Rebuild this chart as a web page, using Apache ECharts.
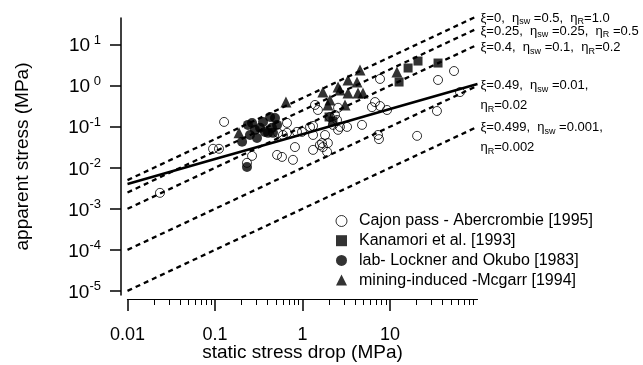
<!DOCTYPE html>
<html>
<head>
<meta charset="utf-8">
<script src="https://cdn.jsdelivr.net/npm/echarts@6/dist/echarts.min.js"></script>
<style>
html,body{margin:0;padding:0;background:#fff;}
#chart{width:643px;height:365px;}
</style>
</head>
<body>
<div id="chart"></div>
<script>
// ---- data (real values, MPa) ----
const cajonPass = [
  [0.0235, 0.00245], [0.127, 0.131], [0.095, 0.029], [0.111, 0.029], [0.232, 0.0132],
  [0.265, 0.0195], [0.665, 0.124], [0.525, 0.071], [0.665, 0.071], [0.865, 0.075],
  [0.987, 0.075], [1.32, 0.105], [0.82, 0.032], [0.512, 0.0206], [0.583, 0.0184],
  [0.778, 0.0156], [1.39, 0.34], [1.50, 0.256], [1.32, 0.0273], [1.58, 0.036],
  [1.67, 0.040], [1.71, 0.032], [1.91, 0.0244], [2.06, 0.173], [2.35, 0.194],
  [2.48, 0.146], [2.68, 0.099], [3.23, 0.099], [1.22, 0.099], [0.598, 0.063],
  [1.81, 0.063], [1.95, 0.040], [7.69, 1.46], [35.4, 1.38], [53.9, 2.28],
  [6.74, 0.40], [6.22, 0.30], [7.69, 0.32], [9.25, 0.256], [63.1, 0.70],
  [34.4, 0.242], [2.55, 0.29], [2.55, 0.084], [4.79, 0.111], [7.29, 0.063],
  [7.48, 0.050], [20.4, 0.060], [2.23, 0.111], [1.32, 0.063]
];
const kanamori = [
  [2.01, 0.173], [2.23, 0.138], [12.7, 1.23], [16.1, 2.70], [20.9, 3.99], [35.4, 3.57]
];
const lockner = [
  [0.204, 0.043], [0.238, 0.111], [0.265, 0.124], [0.354, 0.131], [0.426, 0.173],
  [0.485, 0.164], [0.251, 0.063], [0.302, 0.053], [0.372, 0.075], [0.448, 0.094],
  [0.404, 0.071], [0.46, 0.071], [0.327, 0.094], [0.232, 0.0105], [0.286, 0.084],
  [0.512, 0.111]
];
const mcgarr = [
  [0.188, 0.071], [0.647, 0.40], [1.71, 0.70], [2.06, 0.45], [1.95, 0.34],
  [2.55, 0.93], [3.06, 0.34], [3.31, 1.38], [4.20, 1.23], [4.54, 2.41],
  [3.31, 0.66], [4.31, 0.66], [4.91, 0.66], [12.0, 2.15], [2.68, 0.79]
];
const lineXi0    = [[0.01, 0.005],   [100, 50]];
const lineXi025  = [[0.01, 0.0025],  [100, 25]];
const lineXi04   = [[0.01, 0.001],   [100, 10]];
const lineXi049  = [[0.01, 0.0001],  [100, 1]];
const lineXi0499 = [[0.01, 0.00001], [100, 0.1]];
const fitCurve   = [[0.01, 0.004], [0.1, 0.0163], [1, 0.066], [10, 0.27], [100, 1.1]];

const seriesNames = ['Cajon pass - Abercrombie [1995]', 'Kanamori et al. [1993]',
  'lab- Lockner and Okubo [1983]', 'mining-induced -Mcgarr [1994]'];
const lineLabels = [
  '{t|ξ=0,  η}{u|sw}{t| =0.5,  η}{u|R}{t|=1.0}',
  '{t|ξ=0.25,  η}{u|sw}{t| =0.25,  η}{u|R}{t| =0.5}',
  '{t|ξ=0.4,  η}{u|sw}{t| =0.1,  η}{u|R}{t|=0.2}',
  '{t|ξ=0.49,  η}{u|sw}{t| =0.01,}\n{t|η}{u|R}{t|=0.02}',
  '{t|ξ=0.499,  η}{u|sw}{t| =0.001,}\n{t|η}{u|R}{t|=0.002}'
];
const xMajorTicks = [0.01, 0.1, 1, 10];
const xMinorTicks = [0.02,0.03,0.04,0.05,0.06,0.07,0.08,0.09,
  0.2,0.3,0.4,0.5,0.6,0.7,0.8,0.9, 2,3,4,5,6,7,8,9, 20,30,40,50,60,70,80,90];
const yTicks = [1e-5, 1e-4, 1e-3, 1e-2, 1e-1, 1, 10];

// ---- helpers ----
const L = v => Math.log10(v);
const toLog = arr => arr.map(p => [L(p[0]), L(p[1])]);
const FONT = "'Liberation Sans', Arial, Helvetica, sans-serif";

const richLine = {
  t: {fontSize: 13, lineHeight: 20, color: '#000', fontFamily: FONT, verticalAlign: 'middle'},
  u: {fontSize: 9, lineHeight: 20, color: '#000', fontFamily: FONT, verticalAlign: 'bottom', padding: [0, 0, 2, 0]}
};

function dashed(data, labelIdx, offY) {
  return {
    type: 'line', data: toLog(data), symbol: 'none', clip: false, silent: true,
    lineStyle: {color: '#000', width: 2.3, type: [5, 4]},
    endLabel: {show: true, formatter: () => lineLabels[labelIdx], distance: 3,
      offset: [0, offY], rich: richLine, color: '#000'}
  };
}

const chart = echarts.init(document.getElementById('chart'), null, {renderer: 'canvas'});
chart.setOption({
  animation: false,
  backgroundColor: '#fff',
  textStyle: {fontFamily: FONT},
  grid: {left: 127.5, top: 18, width: 350, height: 277, containLabel: false, outerBoundsMode: 'none'},
  legend: {
    orient: 'vertical', left: 330.5, top: 208, itemWidth: 11, itemHeight: 11, itemGap: 3.7,
    textStyle: {fontSize: 16, lineHeight: 16, color: '#000', fontFamily: FONT, padding: [0, 0, 0, 7]},
    selectedMode: false,
    data: [
      {name: seriesNames[0], icon: 'circle', itemStyle: {color: '#fff', borderColor: '#000', borderWidth: 1}},
      {name: seriesNames[1], icon: 'rect', itemStyle: {color: '#000', borderWidth: 0}},
      {name: seriesNames[2], icon: 'circle', itemStyle: {color: '#000', borderWidth: 0}},
      {name: seriesNames[3], icon: 'triangle', itemStyle: {color: '#000', borderWidth: 0}}
    ]
  },
  xAxis: [{
    type: 'value', min: -2, max: 2, position: 'bottom', offset: 4,
    name: 'static stress drop (MPa)', nameLocation: 'middle', nameGap: 44, nameMoveOverlap: false,
    nameTextStyle: {fontSize: 19, color: '#000', fontFamily: FONT},
    splitLine: {show: false},
    axisLine: {show: true, onZero: false, lineStyle: {color: '#000', width: 1.2}},
    axisTick: {show: true, length: 12, customValues: xMajorTicks.map(L), lineStyle: {color: '#000', width: 1.5}},
    axisLabel: {customValues: xMajorTicks.map(L), margin: 27, fontSize: 18, color: '#000', fontFamily: FONT,
      formatter: v => String(Math.pow(10, Math.round(v)))}
  }, {
    type: 'value', min: -2, max: 2, position: 'bottom', offset: 4,
    splitLine: {show: false},
    axisLine: {show: false, onZero: false},
    axisTick: {show: true, length: 6, customValues: xMinorTicks.map(L), lineStyle: {color: '#000', width: 1}},
    axisLabel: {show: false}
  }],
  yAxis: {
    type: 'value', min: -5.1, max: 1.65, position: 'left', offset: 6.5,
    name: 'apparent stress (MPa)', nameLocation: 'middle', nameGap: 89, nameMoveOverlap: false,
    nameTextStyle: {fontSize: 19, color: '#000', fontFamily: FONT},
    splitLine: {show: false},
    axisLine: {show: true, onZero: false, lineStyle: {color: '#000', width: 1.5}},
    axisTick: {show: true, length: 11, customValues: yTicks.map(L), lineStyle: {color: '#000', width: 1.5}},
    axisLabel: {
      customValues: yTicks.map(L), margin: 20, color: '#000', fontFamily: FONT,
      formatter: v => {
        const n = Math.round(v);
        const sup = n >= 0 ? ' ' + n : '-' + Math.abs(n);
        return '{b|10}{s|' + sup + '}';
      },
      rich: {
        b: {fontSize: 19, lineHeight: 22, verticalAlign: 'bottom', color: '#000', fontFamily: FONT},
        s: {fontSize: 13, lineHeight: 13, verticalAlign: 'top', color: '#000', fontFamily: FONT}
      }
    }
  },
  series: [
    dashed(lineXi0, 0, 2),
    dashed(lineXi025, 1, 3),
    dashed(lineXi04, 2, 3),
    dashed(lineXi049, 3, 10),
    dashed(lineXi0499, 4, 11),
    {type: 'line', data: toLog(fitCurve), symbol: 'none', clip: false, silent: true, smooth: false,
      lineStyle: {color: '#000', width: 2.6}},
    {name: seriesNames[0], type: 'scatter', data: toLog(cajonPass), symbol: 'circle', symbolSize: 9,
      itemStyle: {color: 'rgba(255,255,255,0)', borderColor: '#000', borderWidth: 1}},
    {name: seriesNames[1], type: 'scatter', data: toLog(kanamori), symbol: 'rect', symbolSize: 9,
      itemStyle: {color: '#000'}},
    {name: seriesNames[2], type: 'scatter', data: toLog(lockner), symbol: 'circle', symbolSize: 10,
      itemStyle: {color: '#000'}},
    {name: seriesNames[3], type: 'scatter', data: toLog(mcgarr), symbol: 'triangle', symbolSize: 11,
      itemStyle: {color: '#000'}}
  ]
});
</script>
</body>
</html>
